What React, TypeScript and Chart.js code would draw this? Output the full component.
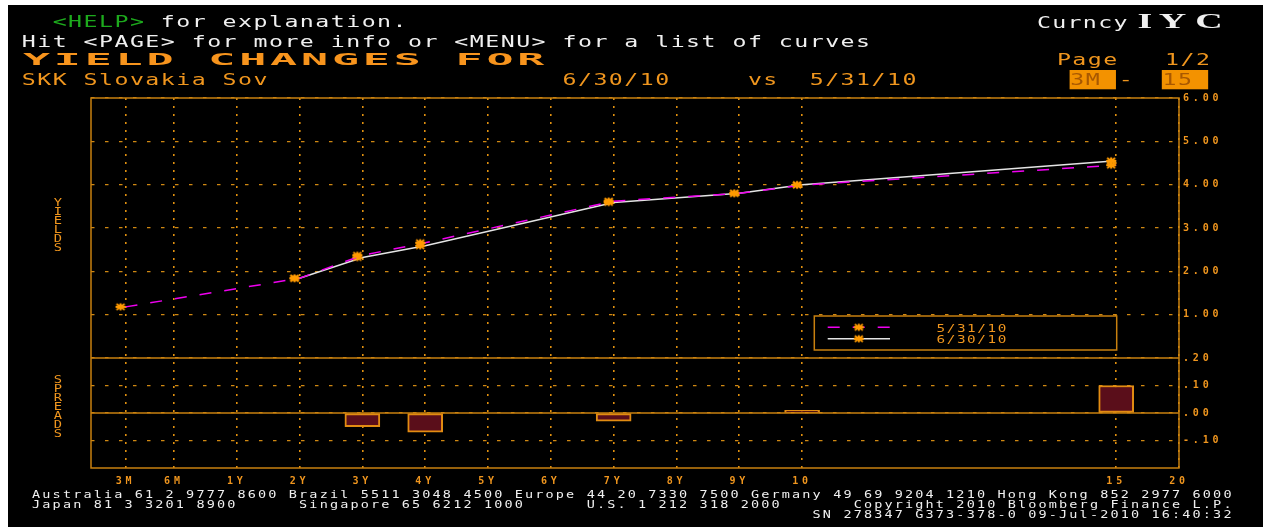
import React, { useEffect, useRef } from 'react';
import { Chart, registerables } from 'chart.js';

Chart.register(...registerables);

// ---------------- data ----------------
const tenorLabels = ['3M', '6M', '1Y', '2Y', '3Y', '4Y', '5Y', '6Y', '7Y', '8Y', '9Y', '10', '15', '20'];
// position of each tenor on the (non-linear) Bloomberg maturity axis
const tenorPos = [-0.77, 0, 1, 2, 3, 4, 5, 6, 7, 8, 9, 10, 15, 16];
const seriesLabels = ['5/31/10', '6/30/10'];
const yieldsMay = [1.18, null, null, 1.84, 2.37, 2.66, null, null, 3.62, null, 3.8, 3.99, 4.45, null];
const yieldsJun = [null, null, null, 1.84, 2.32, 2.59, null, null, 3.59, null, 3.8, 4.0, 4.55, null];
const spreadValues = [null, null, null, null, -0.05, -0.07, null, null, -0.03, null, null, 0.01, 0.1, null];
const xRange = [-1.32, 16];
const yieldRange = [0, 6];
const spreadRange = [-0.2, 0.2];

// ---------------- texts ----------------
const helpKey = '<HELP>';
const helpRest = 'for explanation.';
const line2Text = 'Hit <PAGE> for more info or <MENU> for a list of curves';
const titleText = 'YIELD CHANGES FOR';
const subtitleParts: [number, string][] = [[0, 'SKK Slovakia Sov'], [35, '6/30/10'], [47, 'vs'], [51, '5/31/10']];
const pageParts: [number, string][] = [[67, 'Page'], [74, '1/2']];
const rangeFrom = '3M';
const rangeTo = '15';
const curncyText = 'Curncy';
const tickerText = 'IYC';
const yieldsWord = 'YIELDS';
const spreadsWord = 'SPREADS';
const footerParts: [number, string][][] = [
  [[0, 'Australia 61 2 9777 8600 Brazil 5511 3048 4500 Europe 44 20 7330 7500 Germany 49 69 9204 1210 Hong Kong 852 2977 6000']],
  [[0, 'Japan 81 3 3201 8900'], [26, 'Singapore 65 6212 1000'], [54, 'U.S. 1 212 318 2000'], [80, 'Copyright 2010 Bloomberg Finance L.P.']],
  [[76, 'SN 278347 G373-378-0 09-Jul-2010 16:40:32']],
];

// ---------------- styles ----------------
const GREEN = '#1DAA1D';
const WHITE = '#F0F0F0';
const ORANGE = '#F0961E';
const TITLE = '#F7941D';
const FRAME = '#C8800F';
const GRID_DOT = '#E0900F';
const GRID_DASH = '#D08812';
const BAR_FILL = '#5A0E1A';
const BAR_BORDER = '#E28C12';
const MAGENTA = '#F000F0';
const LINE_WHITE = '#E4E4E4';
const MARKER = '#FF9A00';
const MONO = '"DejaVu Sans Mono", "Liberation Mono", monospace';

function makeStar(offsetX: number) {
  const c = document.createElement('canvas');
  c.width = 24;
  c.height = 12;
  const g = c.getContext('2d')!;
  const cx = 12 + offsetX;
  const cy = 6;
  g.strokeStyle = MARKER;
  g.lineWidth = 2;
  g.beginPath();
  g.moveTo(cx - 5, cy); g.lineTo(cx + 5, cy);
  g.moveTo(cx - 4, cy - 3); g.lineTo(cx + 4, cy + 3);
  g.moveTo(cx - 4, cy + 3); g.lineTo(cx + 4, cy - 3);
  g.moveTo(cx, cy - 3.5); g.lineTo(cx, cy + 3.5);
  g.stroke();
  return c;
}

function drawMono(ctx: any, text: string, x0: number, baseline: number, pitch: number, font: string, color: string, sx = 1) {
  ctx.save();
  ctx.letterSpacing = '0px';
  ctx.font = font;
  ctx.fillStyle = color;
  ctx.textAlign = 'center';
  ctx.textBaseline = 'alphabetic';
  for (let i = 0; i < text.length; i++) {
    const ch = text[i];
    if (ch === ' ') continue;
    ctx.save();
    ctx.translate(x0 + (i + 0.5) * pitch, baseline);
    ctx.scale(sx, 1);
    ctx.fillText(ch, 0, 0);
    ctx.restore();
  }
  ctx.restore();
}

function placeParts(parts: [number, string][]) {
  let s = '';
  for (const [col, t] of parts) {
    while (s.length < col) s += ' ';
    s += t;
  }
  return s;
}

function fmtSpread(v: number) {
  const s = Math.abs(v).toFixed(2).replace(/^0/, '');
  return (v < -1e-9 ? '-' : '') + s;
}

function toPoints(values: (number | null)[]) {
  const pts: { x: number; y: number }[] = [];
  values.forEach((v, i) => {
    if (v !== null && v !== undefined) pts.push({ x: tenorPos[i], y: v });
  });
  return pts;
}

export default function App() {
  const ref = useRef<HTMLCanvasElement>(null);

  useEffect(() => {
    const canvas = ref.current!;
    const starOff = makeStar(-5);
    const starCtr = makeStar(0);

    const H0 = 13; // header cell origin (canvas px)
    const HP = 15.45; // header pitch
    const HFONT = `16px ${MONO}`;
    const TICK_FONT = { family: MONO, size: 10, weight: 'bold' };

    const bbPlugin = {
      id: 'bbFrame',
      beforeDraw(chart: any) {
        const ctx = chart.ctx;
        ctx.save();
        ctx.fillStyle = '#000';
        ctx.fillRect(0, 0, chart.width, chart.height);
        ctx.restore();
        ctx.letterSpacing = '3.8px';
      },
      beforeDatasetsDraw(chart: any) {
        const ctx = chart.ctx;
        const { left, right, top, bottom } = chart.chartArea;
        const yS = chart.scales.yS;
        ctx.save();
        ctx.strokeStyle = FRAME;
        ctx.lineWidth = 1.5;
        ctx.strokeRect(left, top, right - left, bottom - top);
        ctx.beginPath();
        const yDiv = yS.getPixelForValue(spreadRange[1]);
        ctx.moveTo(left, yDiv);
        ctx.lineTo(right, yDiv);
        const y0 = yS.getPixelForValue(0);
        ctx.moveTo(left, y0);
        ctx.lineTo(right, y0);
        ctx.stroke();
        ctx.restore();
      },
      afterDraw(chart: any) {
        const ctx = chart.ctx;
        ctx.letterSpacing = '0px';

        // ---- legend ----
        const lx = 806.3, ly = 311, lw = 302.4, lh = 34;
        ctx.save();
        ctx.fillStyle = '#000';
        ctx.fillRect(lx, ly, lw, lh);
        ctx.strokeStyle = FRAME;
        ctx.lineWidth = 1.5;
        ctx.strokeRect(lx, ly, lw, lh);
        const rows = [322.3, 333.7];
        [0, 1].forEach((di, r) => {
          const ds = chart.data.datasets[di];
          ctx.save();
          ctx.strokeStyle = ds.borderColor;
          ctx.lineWidth = ds.borderWidth;
          ctx.setLineDash(ds.borderDash || []);
          ctx.beginPath();
          ctx.moveTo(819.7, rows[r]);
          ctx.lineTo(882, rows[r]);
          ctx.stroke();
          ctx.restore();
          ctx.drawImage(starCtr, 850.8 - 12, rows[r] - 6);
          drawMono(ctx, ds.label, 927.7, rows[r] + 4.4, 10.2, `11px ${MONO}`, ORANGE, 1.3);
        });
        ctx.restore();

        // ---- side words ----
        for (let i = 0; i < yieldsWord.length; i++) {
          drawMono(ctx, yieldsWord[i], 45, 201 + 9 * i, 10, `11px ${MONO}`, ORANGE, 1.25);
        }
        for (let i = 0; i < spreadsWord.length; i++) {
          drawMono(ctx, spreadsWord[i], 45, 378 + 9 * i, 10, `11px ${MONO}`, ORANGE, 1.25);
        }

        // ---- header ----
        drawMono(ctx, helpKey, H0 + 2 * HP, 22, HP, HFONT, GREEN, 1.45);
        drawMono(ctx, helpRest, H0 + 9 * HP, 22, HP, HFONT, WHITE, 1.45);
        drawMono(ctx, line2Text, H0, 42, HP, HFONT, WHITE, 1.45);
        drawMono(ctx, titleText, H0, 59.5, HP * 2, `bold 15px ${MONO}`, TITLE, 3.0);
        drawMono(ctx, placeParts(pageParts), H0, 60, HP, HFONT, ORANGE, 1.45);
        drawMono(ctx, placeParts(subtitleParts), H0, 80, HP, HFONT, ORANGE, 1.45);
        // range boxes
        ctx.save();
        ctx.fillStyle = '#F39200';
        ctx.fillRect(H0 + 68 * HP - 2, 65, 3 * HP, 19.3);
        ctx.fillRect(H0 + 74 * HP - 2.5, 65, 3 * HP, 19.3);
        ctx.restore();
        drawMono(ctx, rangeFrom, H0 + 68 * HP - 2, 80, HP, HFONT, '#A85800', 1.45);
        drawMono(ctx, '-', H0 + 71 * HP, 80, HP, HFONT, ORANGE, 1.45);
        drawMono(ctx, rangeTo, H0 + 74 * HP - 2.5, 80, HP, HFONT, '#A85800', 1.45);
        drawMono(ctx, curncyText, 1028.3, 23, 15.3, HFONT, WHITE, 1.45);
        const tickerCenters = [1137, 1164.5, 1201];
        ctx.save();
        ctx.font = `bold 20px "Liberation Serif", serif`;
        ctx.fillStyle = WHITE;
        ctx.textAlign = 'center';
        for (let i = 0; i < tickerText.length; i++) {
          ctx.save();
          ctx.translate(tickerCenters[i], 23);
          ctx.scale(1.9, 1);
          ctx.fillText(tickerText[i], 0, 0);
          ctx.restore();
        }
        ctx.restore();

        // ---- footer ----
        footerParts.forEach((parts, i) => {
          drawMono(ctx, placeParts(parts), 23, 492.5 + 10 * i, 10.27, `10px ${MONO}`, WHITE, 1.35);
        });
      },
    };

    const chart = new Chart(canvas, {
      type: 'line',
      data: {
        datasets: [
          {
            type: 'line',
            label: seriesLabels[0],
            data: toPoints(yieldsMay),
            xAxisID: 'x',
            yAxisID: 'yY',
            borderColor: MAGENTA,
            borderWidth: 1.5,
            borderDash: [12, 13],
            pointStyle: starOff,
            pointRadius: 4,
            tension: 0,
            order: 0,
          },
          {
            type: 'line',
            label: seriesLabels[1],
            data: toPoints(yieldsJun),
            xAxisID: 'x',
            yAxisID: 'yY',
            borderColor: LINE_WHITE,
            borderWidth: 1.5,
            pointStyle: starOff,
            pointRadius: 4,
            tension: 0,
            order: 1,
          },
          {
            type: 'bar',
            label: 'Spread',
            data: toPoints(spreadValues),
            xAxisID: 'x',
            yAxisID: 'yS',
            backgroundColor: BAR_FILL,
            borderColor: BAR_BORDER,
            borderWidth: 2,
            borderSkipped: false,
            barThickness: 35,
            order: 2,
          },
        ] as any,
      },
      options: {
        responsive: false,
        animation: false,
        devicePixelRatio: 1,
        layout: { padding: { left: 83, top: 93, right: 0, bottom: 0 } },
        plugins: { legend: { display: false }, tooltip: { enabled: false } },
        scales: {
          x: {
            type: 'linear',
            position: 'bottom',
            min: xRange[0],
            max: xRange[1],
            bounds: 'data',
            offset: false,
            afterBuildTicks: (s: any) => {
              s.ticks = tenorPos.map((v) => ({ value: v }));
            },
            afterFit: (s: any) => {
              s.height = 59;
            },
            ticks: {
              autoSkip: false,
              maxRotation: 0,
              minRotation: 0,
              padding: 7.5,
              color: ORANGE,
              font: TICK_FONT,
              callback: (_v: any, i: number) => tenorLabels[i],
            },
            grid: { color: GRID_DOT, lineWidth: 1.6, drawTicks: false, offset: false },
            border: { display: false, dash: [2, 6] },
          },
          yY: {
            type: 'linear',
            position: 'right',
            stack: 'panels',
            stackWeight: 260,
            min: yieldRange[0],
            max: yieldRange[1],
            afterFit: (s: any) => {
              s.width = 84;
            },
            ticks: {
              stepSize: 1,
              padding: 4,
              color: ORANGE,
              font: TICK_FONT,
              callback: (v: any) => (Math.abs(v) < 1e-9 ? null : Number(v).toFixed(2)),
            },
            grid: { color: GRID_DASH, lineWidth: 1.2, drawTicks: false },
            border: { display: false, dash: [3.5, 10.5] },
          },
          yS: {
            type: 'linear',
            position: 'right',
            stack: 'panels',
            stackWeight: 110,
            min: spreadRange[0],
            max: spreadRange[1],
            afterFit: (s: any) => {
              s.width = 84;
            },
            ticks: {
              stepSize: 0.1,
              padding: 4,
              color: ORANGE,
              font: TICK_FONT,
              callback: (v: any) => (Number(v) < spreadRange[0] + 0.05 ? null : fmtSpread(Number(v))),
            },
            grid: { color: GRID_DASH, lineWidth: 1.2, drawTicks: false },
            border: { display: false, dash: [3.5, 10.5] },
          },
        },
      } as any,
      plugins: [bbPlugin],
    });

    return () => chart.destroy();
  }, []);

  return (
    <canvas
      ref={ref}
      width={1255}
      height={522}
      style={{ position: 'absolute', left: 8, top: 5, width: 1255, height: 522, display: 'block', background: '#000' }}
    />
  );
}
